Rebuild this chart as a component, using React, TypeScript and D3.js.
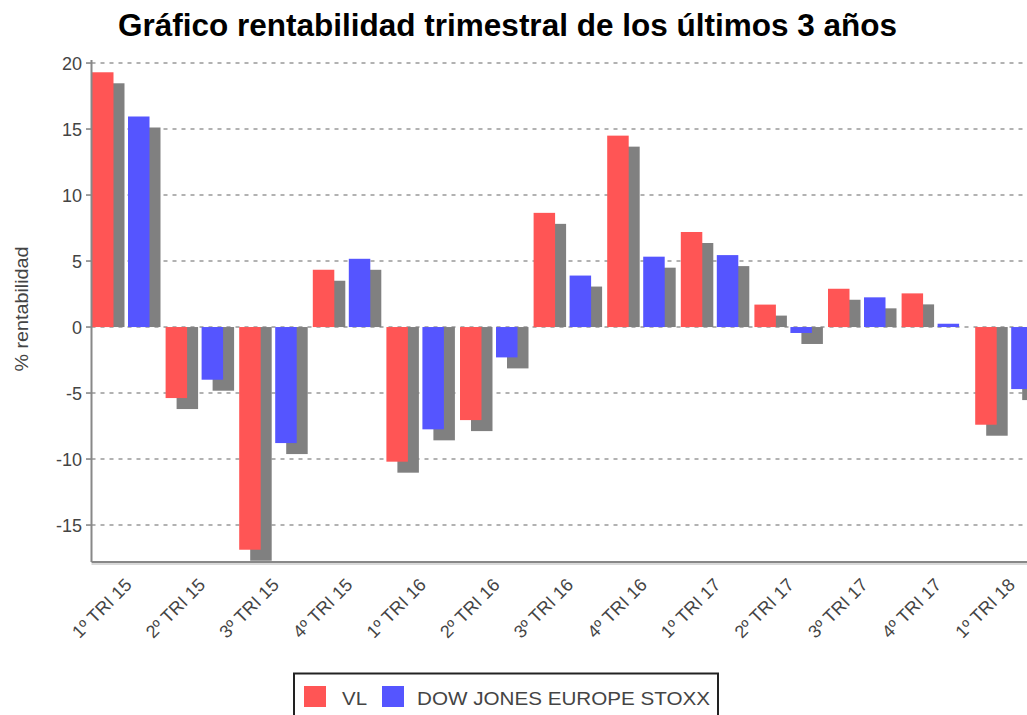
import React from 'react';
import * as d3 from 'd3';

const categories = ['1º TRI 15', '2º TRI 15', '3º TRI 15', '4º TRI 15', '1º TRI 16', '2º TRI 16', '3º TRI 16', '4º TRI 16', '1º TRI 17', '2º TRI 17', '3º TRI 17', '4º TRI 17', '1º TRI 18'];
const vlValues = [19.3, -5.38, -16.87, 4.34, -10.2, -7.05, 8.65, 14.5, 7.2, 1.7, 2.9, 2.55, -7.4];
const djValues = [15.95, -3.99, -8.79, 5.17, -7.75, -2.3, 3.9, 5.33, 5.45, -0.45, 2.25, 0.25, -4.7];
const seriesNames = ['VL', 'DOW JONES EUROPE STOXX'];
const seriesColors = ['#ff5555', '#5555ff'];
const yTicks = [-15, -10, -5, 0, 5, 10, 15, 20];
const titleText = 'Gráfico rentabilidad trimestral de los últimos 3 años';
const yLabel = '% rentabilidad';

const FONT = '"Liberation Sans", Arial, sans-serif';

export default function App() {
  const W = 1027, H = 715;
  const left = 91.5, top = 60, bottom = 562;
  const step = 73.6;
  const x = d3.scaleBand<string>().domain(categories).range([92, 92 + categories.length * step]).paddingInner(0).paddingOuter(0);
  const inner = d3.scaleBand<string>().domain(seriesNames).range([0, 57.5]).paddingInner(0.403).paddingOuter(0);
  const y = d3.scaleLinear().domain([-17.8, 20.23]).range([bottom, top]);
  const y0 = y(0);
  const shadow = 11;
  const series = [vlValues, djValues];

  const bars: React.ReactNode[] = [];
  categories.forEach((c, i) => {
    series.forEach((vals, s) => {
      const v = vals[i];
      const bx = (x(c) as number) + (inner(seriesNames[s]) as number);
      const bw = inner.bandwidth();
      const yv = y(v);
      const top0 = Math.min(yv, y0);
      const h = Math.abs(yv - y0);
      // shadow
      let sy: number, sh: number;
      if (v >= 0) {
        sy = yv + shadow;
        sh = Math.max(0, y0 - sy);
      } else {
        sy = y0;
        sh = yv + shadow - y0;
      }
      bars.push(<rect key={`sh-${i}-${s}`} x={bx + shadow} y={sy} width={bw} height={sh} fill="#808080" />);
      bars.push(<rect key={`b-${i}-${s}`} x={bx} y={top0} width={bw} height={h} fill={seriesColors[s]} />);
    });
  });

  return (
    <svg width={W} height={H} style={{ position: 'absolute', left: 0, top: 0, background: '#fff' }} fontFamily={FONT}>
      <defs>
        <clipPath id="plot">
          <rect x={left} y={top} width={W - left} height={bottom - top} />
        </clipPath>
      </defs>
      <rect x={0} y={0} width={W} height={H} fill="#fff" />
      <text x={118} y={36} fontSize={32} fontWeight="bold" fill="#000" textLength={779} lengthAdjust="spacingAndGlyphs">{titleText}</text>

      {/* gridlines */}
      {yTicks.map((t) => (
        <line key={`g${t}`} x1={left} x2={W} y1={y(t)} y2={y(t)} stroke="#999" strokeWidth={1.6} strokeDasharray="4,5" />
      ))}

      <g clipPath="url(#plot)">{bars}</g>

      {/* axes */}
      <line x1={left} x2={left} y1={top} y2={bottom} stroke="#888" strokeWidth={2} />
      <line x1={left} x2={W} y1={bottom} y2={bottom} stroke="#888" strokeWidth={2} />
      <line x1={left} x2={W} y1={bottom + 2} y2={bottom + 2} stroke="#ccc" strokeWidth={1.5} />
      {yTicks.map((t) => (
        <g key={`t${t}`}>
          <line x1={86} x2={left} y1={y(t)} y2={y(t)} stroke="#888" strokeWidth={1.6} />
          <text x={82} y={y(t)} dy="0.36em" textAnchor="end" fontSize={18} fill="#444">{t}</text>
        </g>
      ))}
      <text transform={`translate(28,309) rotate(-90)`} textAnchor="middle" fontSize={18} fill="#444" textLength={125} lengthAdjust="spacingAndGlyphs">{yLabel}</text>

      {categories.map((c) => {
        const ax = (x(c) as number) + x.bandwidth() / 2 + 4;
        const ay = 586;
        return (
          <text key={`xl${c}`} transform={`translate(${ax},${ay}) rotate(-45)`} textAnchor="end" fontSize={18} fill="#444">{c}</text>
        );
      })}

      {/* legend */}
      <rect x={294} y={673.5} width={424} height={60} fill="#fff" stroke="#222" strokeWidth={2} />
      <rect x={304} y={686} width={22} height={21} fill={seriesColors[0]} />
      <text x={342} y={705} fontSize={19} fill="#444" textLength={25} lengthAdjust="spacingAndGlyphs">{seriesNames[0]}</text>
      <rect x={382} y={686} width={22} height={21} fill={seriesColors[1]} />
      <text x={417} y={705} fontSize={19} fill="#444" textLength={293} lengthAdjust="spacingAndGlyphs">{seriesNames[1]}</text>
    </svg>
  );
}
